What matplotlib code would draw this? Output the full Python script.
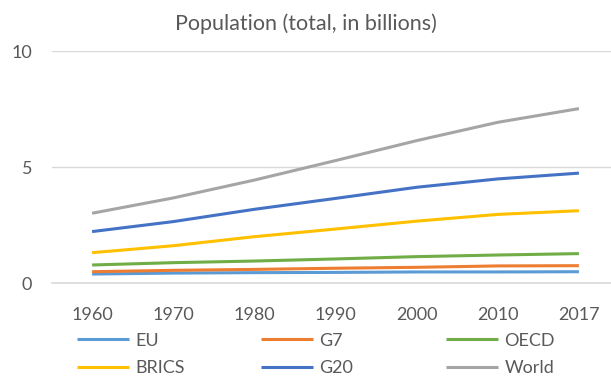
import matplotlib
matplotlib.use("Agg")
import matplotlib.pyplot as plt

plt.rcParams['font.family'] = ['Lato', 'DejaVu Sans']

# population, billions
years = ["1960", "1970", "1980", "1990", "2000", "2010", "2017"]
eu = [0.40, 0.44, 0.46, 0.47, 0.49, 0.49, 0.50]
g7 = [0.50, 0.56, 0.60, 0.65, 0.69, 0.75, 0.76]
oecd = [0.79, 0.89, 0.96, 1.05, 1.15, 1.22, 1.28]
brics = [1.32, 1.62, 2.01, 2.34, 2.68, 2.97, 3.13]
g20 = [2.23, 2.66, 3.19, 3.66, 4.14, 4.50, 4.75]
world = [3.02, 3.68, 4.45, 5.29, 6.15, 6.94, 7.53]

names = ["EU", "G7", "OECD", "BRICS", "G20", "World"]
series = [eu, g7, oecd, brics, g20, world]
colors = ["#5B9BD5", "#ED7D31", "#70AD47", "#FFC000", "#4472C4", "#A5A5A5"]

txt = "#595959"
grid = "#D9D9D9"

fig = plt.figure(figsize=(6.11, 3.76), dpi=100)
ax = fig.add_axes([0.0843, 0.2465, 0.9296, 0.6170])

x = list(range(len(years)))
lines = {}
for name, vals, c in zip(names, series, colors):
    ln, = ax.plot(x, vals, color=c, lw=2.2, solid_capstyle='butt', label=name)
    lines[name] = ln

ax.set_xlim(-0.5, 6.5)
ax.set_ylim(0, 10)
ax.set_yticks([0, 5, 10])
ax.set_xticks(x)
ax.set_xticklabels(years)
ax.tick_params(axis='y', length=0, pad=14, labelsize=13, labelcolor=txt)
ax.tick_params(axis='x', length=0, pad=17, labelsize=13, labelcolor=txt)

ax.yaxis.grid(True, color=grid, lw=1)
ax.set_axisbelow(True)
for s in ["top", "right", "left"]:
    ax.spines[s].set_visible(False)
ax.spines["bottom"].set_color(grid)
ax.spines["bottom"].set_linewidth(1.2)

fig.text(0.5, 0.938, "Population (total, in billions)", ha='center', va='center',
         fontsize=15.5, color=txt)

# legend: three columns, two rows each
cols = [("EU", "BRICS"), ("G7", "G20"), ("OECD", "World")]
col_x = [0.1255, 0.4272, 0.730]
for pair, lx in zip(cols, col_x):
    fig.legend([lines[n] for n in pair], list(pair), loc='upper left',
               bbox_to_anchor=(lx, 0.115), frameon=False, fontsize=13,
               borderpad=0, borderaxespad=0, handlelength=2.9,
               handletextpad=0.33, labelspacing=0.62, labelcolor=txt)

fig.savefig("out.png", dpi=100)
